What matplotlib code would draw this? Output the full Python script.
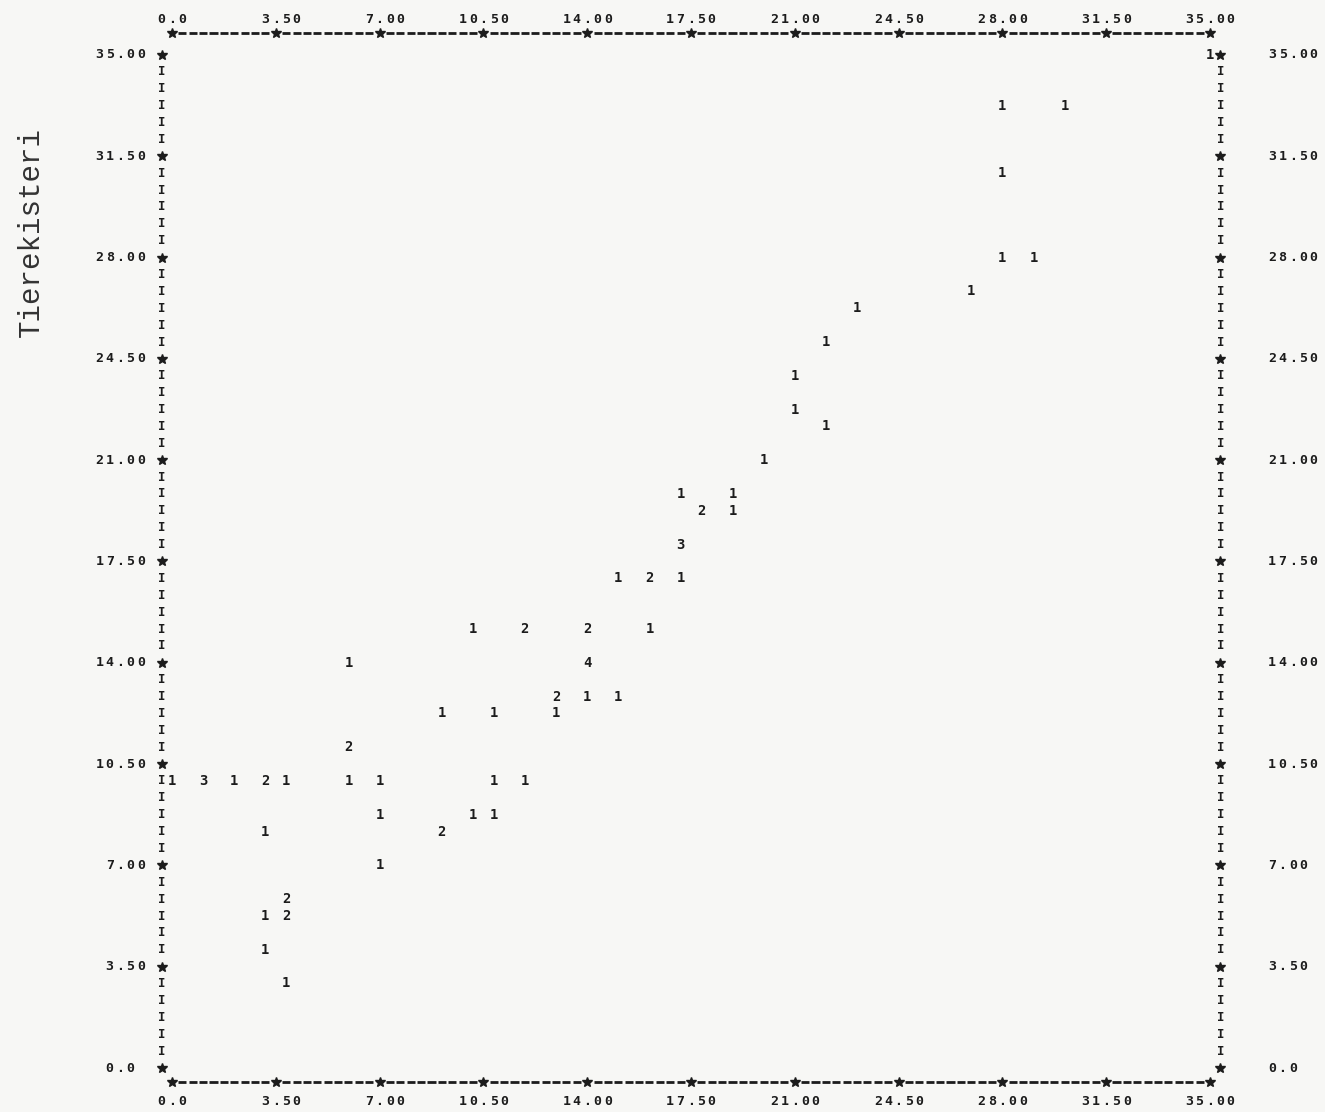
import matplotlib.pyplot as plt

# printer-plot cells: x value, y value, number of cases in the cell
x_vals = [35.0,
          28.0, 30.1,
          28.0,
          28.0, 29.05,
          26.95,
          23.1,
          22.05,
          21.0,
          21.0,
          22.05,
          19.95,
          17.15, 18.9,
          17.85, 18.9,
          17.15,
          15.05, 16.1, 17.15,
          10.15, 11.9, 14.0, 16.1,
          5.95, 14.0,
          12.95, 14.0, 15.05,
          9.1, 10.85, 12.95,
          5.95,
          0.0, 1.05, 2.1, 3.15, 3.85, 5.95, 7.0, 10.85, 11.9,
          7.0, 10.15, 10.85,
          3.15, 9.1,
          7.0,
          3.85,
          3.15, 3.85,
          3.15,
          3.85]
y_vals = [35.0,
          33.25, 33.25,
          30.92,
          28.0, 28.0,
          26.83,
          26.25,
          25.08,
          23.92,
          22.75,
          22.17,
          21.0,
          19.83, 19.83,
          19.25, 19.25,
          18.08,
          16.92, 16.92, 16.92,
          15.17, 15.17, 15.17, 15.17,
          14.0, 14.0,
          12.83, 12.83, 12.83,
          12.25, 12.25, 12.25,
          11.08,
          9.92, 9.92, 9.92, 9.92, 9.92, 9.92, 9.92, 9.92, 9.92,
          8.75, 8.75, 8.75,
          8.17, 8.17,
          7.0,
          5.83,
          5.25, 5.25,
          4.08,
          2.92]
counts = [1,
          1, 1,
          1,
          1, 1,
          1,
          1,
          1,
          1,
          1,
          1,
          1,
          1, 1,
          2, 1,
          3,
          1, 2, 1,
          1, 2, 2, 1,
          1, 4,
          2, 1, 1,
          1, 1, 1,
          2,
          1, 3, 1, 2, 1, 1, 1, 1, 1,
          1, 1, 1,
          1, 2,
          1,
          2,
          1, 2,
          1,
          1]

tick_vals = [0.0, 3.5, 7.0, 10.5, 14.0, 17.5, 21.0, 24.5, 28.0, 31.5, 35.0]
tick_labels = ['0.0', '3.50', '7.00', '10.50', '14.00', '17.50', '21.00',
               '24.50', '28.00', '31.50', '35.00']
ylabel = 'Tierekisteri'

ink = '#1c1c1c'
colw = 0.35          # one printer column in x units
rowh = 35.0 / 60     # one printer line in y units
mono = dict(family='DejaVu Sans Mono', fontweight='bold', color=ink)

fig = plt.figure(figsize=(13.25, 11.12), dpi=100, facecolor='#f7f7f5')
ax = fig.add_axes([0, 0, 1, 1])
ax.set_facecolor('#f7f7f5')
ax.set_xlim(-5.80, 38.88)
ax.set_ylim(-1.52, 36.90)
ax.axis('off')


def put(s, col0, y, size=9.5):
    for i, ch in enumerate(s):
        if ch != ' ':
            ax.text((col0 + i) * colw, y, ch, ha='center', va='center',
                    fontsize=size, **mono)


# frame: top and bottom lines of dashes with * at ticks
top_y, bot_y = 35.76, -0.49
for yy in (top_y, bot_y):
    starts = [(c - 0.39) * colw for c in range(101) if c % 10]
    ends = [(c + 0.39) * colw for c in range(101) if c % 10]
    ax.hlines([yy] * len(starts), starts, ends, color=ink, lw=2.0)
    ax.plot(tick_vals, [yy] * len(tick_vals), ls='none', marker='*',
            ms=7, color=ink)

# left and right columns of I with * at ticks
for col in (-1, 101):
    for r in range(61):
        if r % 6:
            put('I', col, r * rowh, size=9)
    ax.plot([col * colw] * len(tick_vals), tick_vals, ls='none', marker='*',
            ms=7, color=ink)

# tick labels
for v, lab in zip(tick_vals, tick_labels):
    s = lab.ljust(4)
    tc = round(v / colw)
    start = tc - (len(s) - 1) // 2
    put(s, start, 36.21)
    put(s, start, -1.17)
    put(s, -2 - len(s), v)
    put(s, 106, v)

# the cells
for x, y, n in zip(x_vals, y_vals, counts):
    ax.text(x, y, str(n), ha='center', va='center', fontsize=10, **mono)

ax.text(-4.75, 28.9, ylabel, rotation=90, ha='center', va='center',
        fontsize=21, family='Liberation Mono', color='#333333')

fig.savefig('out.png', dpi=100, facecolor=fig.get_facecolor())
